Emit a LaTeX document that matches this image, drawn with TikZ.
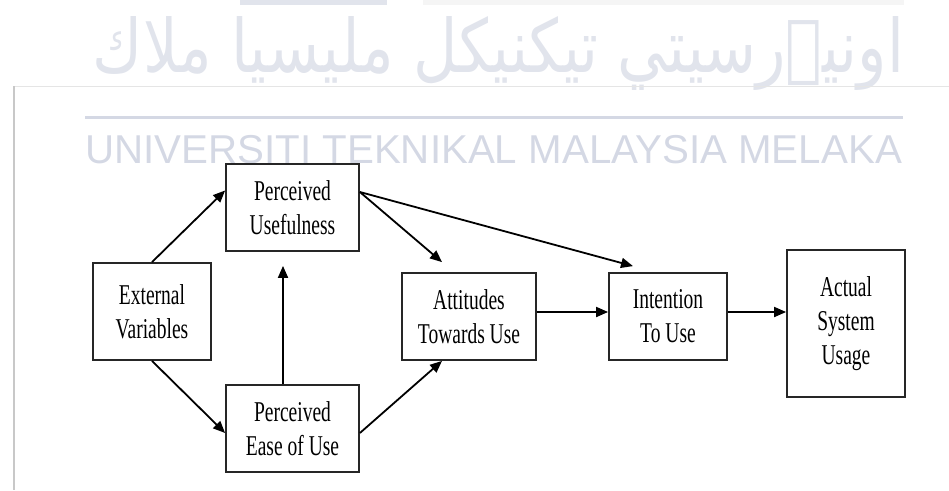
\documentclass[tikz,border=0pt]{standalone}
\usepackage{fontspec}
\usepackage{graphicx}
\setmainfont{Liberation Serif}
\newfontfamily\diafont[FakeStretch=0.68]{Liberation Serif}
\newfontfamily\markfont{Liberation Sans}
\newfontfamily\arabicfont[Script=Arabic]{DejaVu Sans}
\TeXXeTstate=1
\usetikzlibrary{arrows.meta,positioning}
\definecolor{markgray}{RGB}{212,216,228}
\definecolor{framegray}{RGB}{200,200,200}
\tikzset{
block/.style={
  draw=black!85,
  line width=1.8pt,
  align=center,
  inner sep=0pt,
  font=\diafont\fontsize{28.7}{34}\selectfont
},
link/.style={line width=1.8pt, -{Triangle[length=12pt,width=10pt]}},
}

\begin{document}
\begin{tikzpicture}[x=1pt,y=-1pt]
\useasboundingbox (0,0) rectangle (949,490);
\fill[markgray!70] (240,0) rectangle (387,5);
\fill[gray!8] (423,0) rectangle (904,5);
\node[anchor=base, text=markgray!70!white, inner sep=0pt] (jawi) at (498.5,72)
  {\resizebox{811pt}{56pt}{\arabicfont\beginR اونيۏرسيتي تيكنيكل مليسيا ملاك\endR}};
\draw[gray!20, line width=1pt] (14,86) -- (949,86);
\draw[framegray, line width=2pt] (14,86) -- (14,490);
\draw[markgray, line width=3pt] (85,117) -- (903,117);
\node[anchor=base west, text=markgray, inner sep=0pt] (utem) at (85,163)
  {\markfont\fontsize{40.3}{48}\selectfont UNIVERSITI TEKNIKAL MALAYSIA MELAKA};

\node[block, minimum width=118, minimum height=97] (ev) at (152,311.5) {External\\Variables};
\node[block, minimum width=133, minimum height=87] (pu) at (292.5,207.5) {Perceived\\Usefulness};
\node[block, minimum width=133, minimum height=87] (peou) at (292.5,428.5) {Perceived\\Ease of Use};
\node[block, minimum width=134, minimum height=87] (att) at (469,316.5) {Attitudes\\Towards Use};
\node[block, minimum width=118, minimum height=87] (int) at (668,316.5) {Intention\\To Use};
\node[block, minimum width=118, minimum height=147] (asu) at (846,323.5) {Actual\\System\\Usage};

\draw[link] (ev.north) -- ([yshift=17pt]pu.west);
\draw[link] (ev.south) -- ([yshift=-4.5pt]peou.west);
\draw[link] ([xshift=-9.5pt]peou.north) -- ([xshift=-9.5pt,yshift=-14pt]pu.south);
\draw[link] ([yshift=15.5pt]pu.east) -- ([xshift=-27pt,yshift=10pt]att.north);
\draw[link] ([yshift=15.5pt]pu.east) -- ([xshift=-35pt,yshift=6pt]int.north);
\draw[link] ([yshift=-4.5pt]peou.east) -- ([xshift=-27pt]att.south);
\draw[link] ([yshift=4.5pt]att.east) -- ([yshift=4.5pt]int.west);
\draw[link] ([yshift=4.5pt]int.east) -- ([yshift=11.5pt]asu.west);
\end{tikzpicture}
\end{document}
